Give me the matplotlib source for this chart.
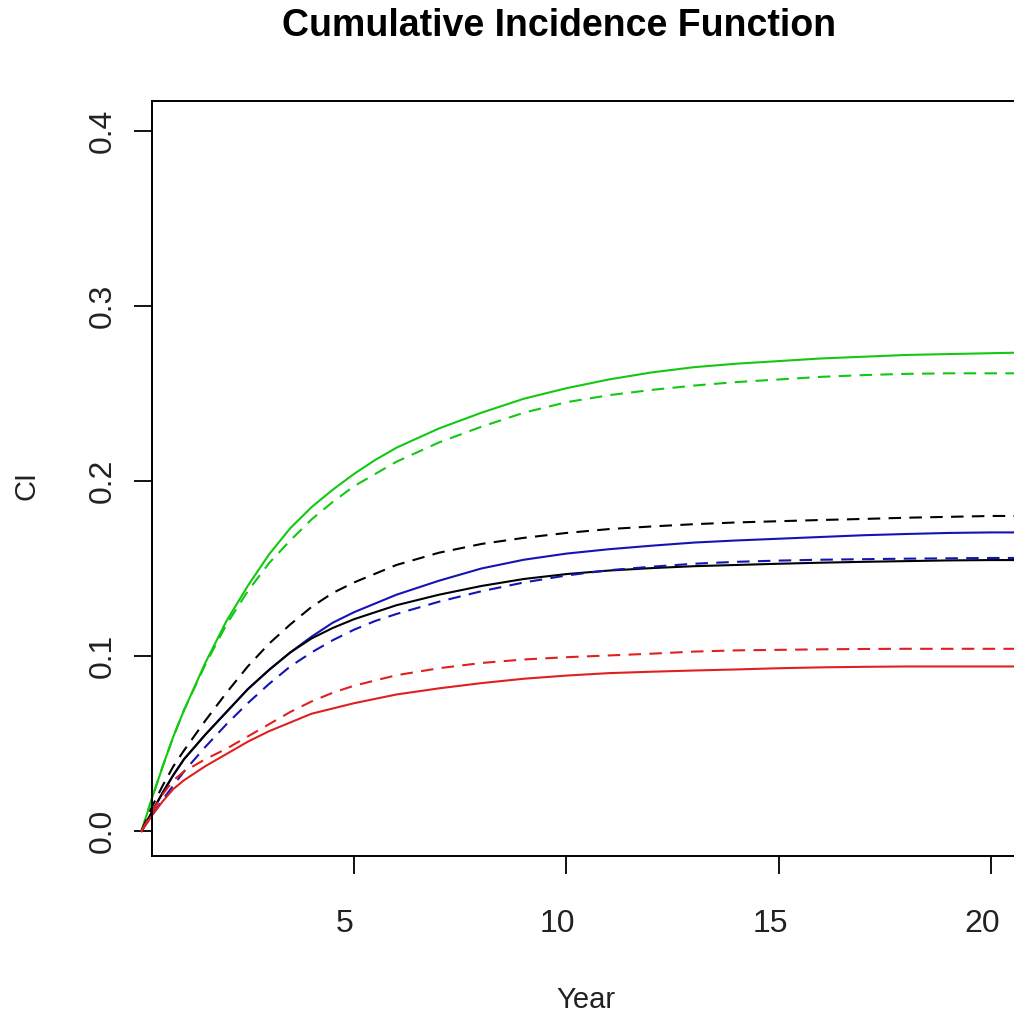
import matplotlib
matplotlib.use('Agg')
import matplotlib.pyplot as plt
import matplotlib.transforms as mtransforms

plt.rcParams['font.family'] = ['Liberation Sans', 'DejaVu Sans']

# time grid (years)
year = [0, 0.25, 0.5, 0.75, 1.0, 1.5, 2.0, 2.5, 3.0, 3.5, 4.0, 4.5, 5.0, 5.5, 6.0,
        7.0, 8.0, 9.0, 10.0, 11.0, 12.0, 13.0, 14.0, 15.0, 16.0, 17.0, 18.0, 19.0,
        20.0, 21.0]

# cumulative incidence curves
green_solid = [0, 0.019, 0.037, 0.054, 0.069, 0.096, 0.120, 0.140, 0.158, 0.173,
               0.185, 0.195, 0.204, 0.212, 0.219, 0.230, 0.239, 0.247, 0.253, 0.258,
               0.262, 0.265, 0.267, 0.2685, 0.270, 0.271, 0.272, 0.2725, 0.273, 0.2735]
green_dash = [0, 0.019, 0.037, 0.054, 0.069, 0.095, 0.118, 0.137, 0.153, 0.166,
              0.178, 0.188, 0.197, 0.204, 0.211, 0.222, 0.231, 0.239, 0.245, 0.249,
              0.252, 0.2545, 0.2565, 0.258, 0.2595, 0.2605, 0.2612, 0.2615, 0.2615, 0.2615]
black_dash = [0, 0.014, 0.026, 0.037, 0.046, 0.063, 0.079, 0.094, 0.107, 0.118,
              0.128, 0.136, 0.142, 0.147, 0.152, 0.159, 0.164, 0.1675, 0.1703, 0.1725,
              0.174, 0.1753, 0.1763, 0.177, 0.1777, 0.1783, 0.179, 0.1795, 0.180, 0.180]
blue_solid = [0, 0.011, 0.022, 0.032, 0.041, 0.055, 0.068, 0.081, 0.092, 0.102,
              0.111, 0.119, 0.125, 0.130, 0.135, 0.143, 0.150, 0.155, 0.1585, 0.161,
              0.163, 0.1648, 0.166, 0.167, 0.168, 0.169, 0.1697, 0.1703, 0.1706, 0.1706]
black_solid = [0, 0.011, 0.022, 0.032, 0.041, 0.055, 0.068, 0.081, 0.092, 0.102,
               0.110, 0.116, 0.121, 0.125, 0.129, 0.135, 0.140, 0.144, 0.1468, 0.1488,
               0.1502, 0.1513, 0.152, 0.1527, 0.1533, 0.1538, 0.1542, 0.1546, 0.1548, 0.1548]
blue_dash = [0, 0.009, 0.018, 0.026, 0.034, 0.048, 0.061, 0.073, 0.084, 0.094,
             0.102, 0.109, 0.115, 0.120, 0.124, 0.131, 0.137, 0.142, 0.146, 0.149,
             0.151, 0.1527, 0.1538, 0.1545, 0.155, 0.1553, 0.1556, 0.1558, 0.156, 0.156]
red_dash = [0, 0.011, 0.021, 0.029, 0.034, 0.041, 0.047, 0.054, 0.061, 0.068,
            0.074, 0.079, 0.083, 0.086, 0.089, 0.093, 0.096, 0.098, 0.0993, 0.1003,
            0.1013, 0.1025, 0.1032, 0.1035, 0.1038, 0.104, 0.1041, 0.1041, 0.1041, 0.1041]
red_solid = [0, 0.009, 0.017, 0.024, 0.029, 0.037, 0.044, 0.051, 0.057, 0.062,
             0.067, 0.070, 0.073, 0.0755, 0.078, 0.0815, 0.0845, 0.087, 0.0888, 0.0902,
             0.091, 0.0917, 0.0923, 0.093, 0.0935, 0.0938, 0.094, 0.094, 0.094, 0.094]

x_ticks = [5, 10, 15, 20]
y_ticks = [0.0, 0.1, 0.2, 0.3, 0.4]

green = '#12c812'
blue = '#1414b4'
red = '#e02020'

fig = plt.figure(figsize=(10.14, 10.17), dpi=100, facecolor='white')
ax = fig.add_axes([152/1014, 1 - 856/1017, (1070 - 152)/1014, (856 - 101)/1017])

curves = [
    (green_solid, green, '-'), (green_dash, green, '--'),
    (black_dash, 'black', '--'), (blue_solid, blue, '-'),
    (black_solid, 'black', '-'), (blue_dash, blue, '--'),
    (red_dash, red, '--'), (red_solid, red, '-'),
]
for vals, col, ls in curves:
    line, = ax.plot(year, vals, color=col, ls=ls, lw=1.5, clip_on=False)
    if ls == '--':
        line.set_dashes((6, 4))

ax.set_xlim(0.247, 21.85)
ax.set_ylim(-0.01429, 0.4171)
ax.set_xticks(x_ticks)
ax.set_xticklabels([str(v) for v in x_ticks])
ax.set_yticks(y_ticks)
ax.set_yticklabels(['%.1f' % v for v in y_ticks], rotation=90, va='center')

ax.tick_params(axis='both', length=13, width=1.3, labelsize=23, labelcolor='#222222')
ax.tick_params(axis='x', pad=25)
ax.tick_params(axis='y', pad=12)
for sp in ax.spines.values():
    sp.set_linewidth(1.4)

# R draws the labels a little left of the ticks
offset = mtransforms.ScaledTranslation(-9/100, 0, fig.dpi_scale_trans)
for lab in ax.get_xticklabels():
    lab.set_transform(lab.get_transform() + offset)

fig.text(559/1014, 1 - 26/1017, 'Cumulative Incidence Function', ha='center',
         va='center', fontsize=27, fontweight='bold')
fig.text(586/1014, 1 - 1000/1017, 'Year', ha='center', va='center', fontsize=21,
         color='#222222')
fig.text(26/1014, 1 - 485/1017, 'CI', ha='center', va='center', fontsize=21,
         rotation=90, color='#222222')

fig.savefig('out.png', dpi=100)
